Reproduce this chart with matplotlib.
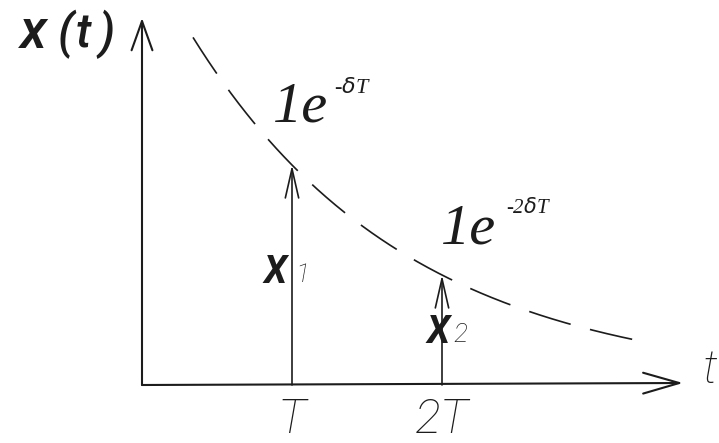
import numpy as np
import matplotlib
matplotlib.use("Agg")
import matplotlib.pyplot as plt

# Sampled decaying signal: impulses at t = T and t = 2T under the envelope 1·e^(-δt)
delta_T = np.log(2.0)            # decay per period, e^(-δT) = 0.5
impulse_times = [1, 2]           # in units of T
impulse_values = [np.exp(-delta_T * k) for k in impulse_times]
impulse_names = ["X", "X"]
impulse_subs = ["1", "2"]
tick_labels = ["T", "2T"]
envelope_labels = [r"-$\delta$T", r"-2$\delta$T"]
y_name = ["x", "(", "t", ")"]

# Envelope drawn over the visible span
t_env = np.linspace(0.34, 3.36, 300)
x_env = np.exp(-delta_T * t_env)

W, H, DPI = 719, 443, 100
fig = plt.figure(figsize=(W / DPI, H / DPI), dpi=DPI)
ax = fig.add_axes([0, 0, 1, 1])

# origin of the sketch in pixels and scale (one period, unit amplitude)
ox, oy, sx, sy = 142, 385, 150.0, 440.0
ax.set_xlim(-ox / sx, (W - ox) / sx)
ax.set_ylim((oy - H) / sy, oy / sy)
ax.axis("off")


def P(px, py):
    """pixel position -> data position"""
    return (px - ox) / sx, (oy - py) / sy


ink = "#1c1c1c"

# axes with open arrow heads
ax.annotate("", xy=P(142, 18), xytext=(0, 0),
            arrowprops=dict(arrowstyle="->,head_length=21,head_width=7.5",
                            mutation_scale=1, lw=1.5, color=ink,
                            shrinkA=0, shrinkB=0))
ax.annotate("", xy=P(683, 383), xytext=(0, 0),
            arrowprops=dict(arrowstyle="->,head_length=26,head_width=7.5",
                            mutation_scale=1, lw=1.5, color=ink,
                            shrinkA=0, shrinkB=0))

# dashed envelope
ax.plot(t_env, x_env, color=ink, lw=1.2, dashes=(26, 12))

# impulses
for t, v in zip(impulse_times, impulse_values):
    ax.annotate("", xy=(t, v), xytext=(t, 0),
                arrowprops=dict(arrowstyle="->,head_length=21,head_width=4.8",
                                mutation_scale=1, lw=1.2, color=ink,
                                shrinkA=0, shrinkB=0))

hand = dict(family=["Roboto", "DejaVu Sans"], style="italic", color=ink)
serif = dict(family=["Liberation Serif", "DejaVu Serif"], style="italic", color=ink)

# vertical axis name, letters spread like handwriting
name_x = [20, 58, 76, 98]
name_size = [40, 34, 34, 34]
for ch, px, fs in zip(y_name, name_x, name_size):
    ax.text(*P(px, 48), ch, fontsize=fs, fontweight="medium", ha="left",
            va="baseline", **hand)
ax.text(*P(702, 383), "t", fontsize=34, fontweight="light", ha="left",
        va="baseline", **hand)

# tick labels under the impulses
for t, lab in zip(impulse_times, tick_labels):
    ax.text(t, P(0, 433)[1], lab, fontsize=35, fontweight="light",
            ha="center", va="baseline", **hand)

# impulse names crossing the stems
name_pos = [(275, 283), (438, 343)]
sub_pos = [(295, 282), (453, 342)]
for (nx, ny), (bx, by), nm, sb in zip(name_pos, sub_pos, impulse_names, impulse_subs):
    ax.text(*P(nx, ny), nm, fontsize=27, fontweight="semibold", ha="center",
            va="baseline", **hand)
    ax.text(*P(bx, by), sb, fontsize=19, fontweight="light", ha="left",
            va="baseline", **hand)

# envelope values
env_base = [(273, 122), (441, 243)]
env_sup = [(334, 93), (506, 213)]
env_sup_size = [16, 15]
for (bx, by), (ux, uy), lab, fs in zip(env_base, env_sup, envelope_labels, env_sup_size):
    ax.text(*P(bx, by), "1e", fontsize=42, ha="left", va="baseline", **serif)
    ax.text(*P(ux, uy), lab, fontsize=fs, ha="left", va="baseline", **serif)

fig.savefig("out.png", dpi=DPI, facecolor="white")
